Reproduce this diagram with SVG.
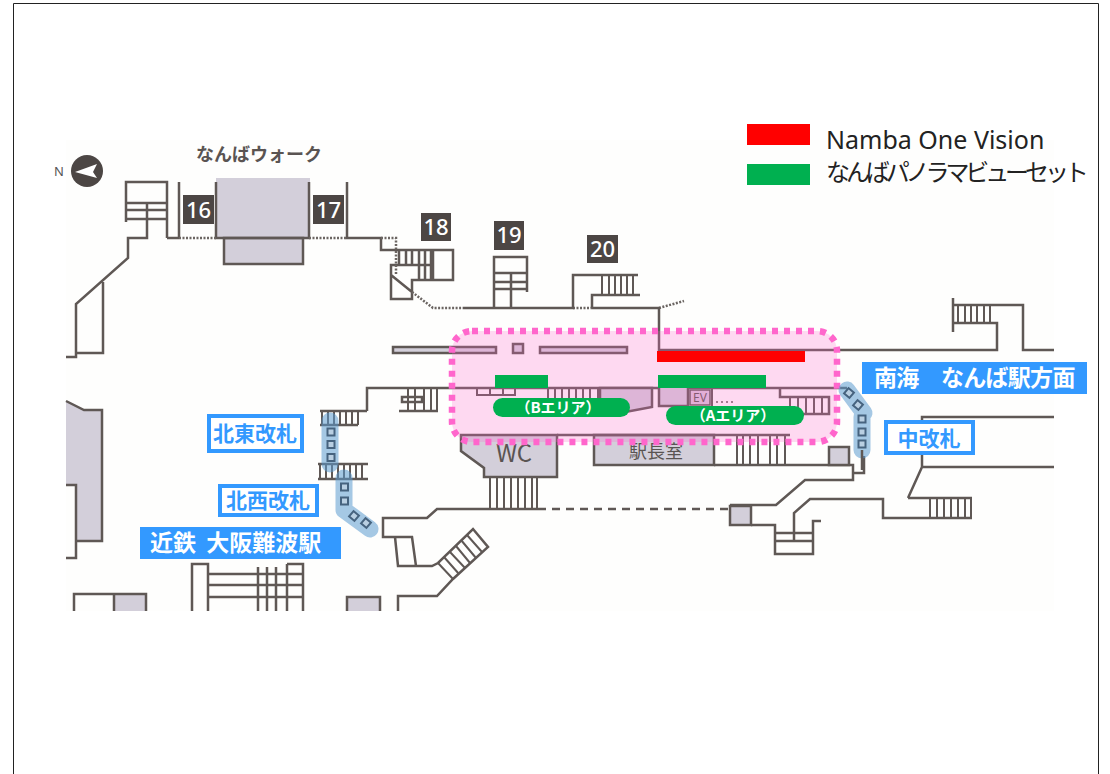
<svg xmlns="http://www.w3.org/2000/svg" width="1110" height="774" viewBox="0 0 1110 774">
<style>
.w{fill:none;stroke:#5f5855;stroke-width:2.500}
.t{fill:none;stroke:#5f5855;stroke-width:2}
.d{fill:none;stroke:#6b6562;stroke-width:2.500;stroke-dasharray:2 1.500}
.r{fill:#d3cfda;stroke:#5f5855;stroke-width:2.500}
.e{fill:#d3cfda;stroke:none}
.n{fill:#4c4644}
.nt{fill:#fff;font:500 22px "Noto Sans","Liberation Sans",sans-serif;text-anchor:middle}
.m{fill:#5a5452;font-family:"Noto Sans CJK JP","Noto Sans",sans-serif;text-anchor:middle}
.band{fill:none;stroke:#5b9bcf;stroke-opacity:.55;stroke-width:17;stroke-linecap:round;stroke-linejoin:round}
.g{fill:#b9cfe2;stroke:#46637f;stroke-width:2}
.lb{fill:#fff;stroke:#3399ff;stroke-width:4}
.lt{fill:#3399ff;font:700 21px "Noto Sans CJK JP",sans-serif;text-anchor:middle}
.wl{fill:#fff;font:700 23px "Noto Sans CJK JP",sans-serif}
.pill{fill:#00b050}
.pt{fill:#fff;font:700 15px "Noto Sans CJK JP",sans-serif;text-anchor:middle}
</style>
<rect width="1110" height="774" fill="#fff"/>
<path d="M13.500 774V3.500H1098.500V774" fill="none" stroke="#222" stroke-width="1"/>
<rect x="66" y="140" width="988" height="471" fill="#fefefd"/>

<g id="map">
<path class="e" d="M66 401L84 410H102V541H76V485H66Z"/>
<path class="w" d="M66 401L84 410H102V541H76M66 485H76V558H66"/>
<g id="compass"><circle class="n" cx="87" cy="171" r="16"/><path d="M75 172L97 164L93 172L97 178Z" fill="#fff"/></g>
<text x="59" y="176" font-family="Noto Sans,sans-serif" font-size="13" fill="#555" text-anchor="middle">N</text>
<text class="m" x="259" y="161" font-size="18" font-weight="700">なんばウォーク</text>

<path class="w" d="M179 182V238M167 238V182H126V222M126 203H167M126 210H167M126 219H167M147 203V238H128V258L76 304V353H103V282M66 357H76V353M167 238H179"/>
<rect class="e" x="216" y="178" width="94" height="60"/>
<rect class="r" x="224" y="238" width="79" height="26"/>
<path class="w" d="M216 182V238H309V182M347 182V238H381V250H453V280H412V299H391V265H433M399 250V265M406 250V265M412 250V265M419 250V280M425 250V280M431 250V280M433 250V280M391 275L412 292"/>
<path class="d" d="M179 238H216M309 238H347M381 238H396V275M412 292L433 308H463M573 308H592M659 308L684 301"/>
<path class="w" d="M463 308H573V275H638M592 308V295H640M592 308H659V350H997V323H953M953 298V332M953 305H1023V350H1054"/>
<path class="t" d="M602 275V295M609 275V295M615 275V295M621 275V295M627 275V295M633 275V295M958 305V323M965 305V323M971 305V323M977 305V323M984 305V323M990 305V323"/>
<path class="w" d="M494 308V257H527V292M494 273H527M494 282H527M494 289H527M511 273V308"/>
<g id="gate16"><rect class="n" x="183" y="195" width="31" height="29"/><text class="nt" x="198.500" y="218">16</text></g>
<g id="gate17"><rect class="n" x="313" y="195" width="31" height="29"/><text class="nt" x="328.500" y="218">17</text></g>
<g id="gate18"><rect class="n" x="421" y="213" width="30" height="28"/><text class="nt" x="436" y="235">18</text></g>
<g id="gate19"><rect class="n" x="494" y="221" width="30" height="29"/><text class="nt" x="509" y="243">19</text></g>
<g id="gate20"><rect class="n" x="587" y="235" width="31" height="28"/><text class="nt" x="602.500" y="257">20</text></g>

<rect class="r" x="393" y="347" width="103" height="6"/>
<rect class="r" x="513" y="344" width="10" height="9"/>
<rect class="r" x="540" y="347" width="87" height="6"/>

<path class="w" d="M367 411V388H847M320 411H367M320 425H358M318 464H368M318 479H368M399 411H438M402 397H422V402H402Z"/>
<path class="t" d="M322 411V425M328 411V425M334 411V425M340 411V425M346 411V425M352 411V425M358 411V425M320 464V479M326 464V479M332 464V479M338 464V479M344 464V479M350 464V479M356 464V479M362 464V479M408 388V411M415 388V411M424 388V411M431 388V411M437 388V411"/>
<path class="t" d="M477 388V395H515V388M490 388V395M503 388V395M548 388V405M555 388V405M562 388V405M569 388V405M576 388V405M583 388V405M590 388V405M598 388V405"/>
<path class="r" d="M600 388H652V407L620 413H600Z"/>
<path class="r" d="M659 388V406H688V388"/>
<rect x="690" y="390" width="20" height="15" fill="#d9c6da" stroke="#5f5855" stroke-width="1.500"/>
<text x="700" y="402" font-family="Noto Sans,sans-serif" font-size="12" fill="#5f5855" text-anchor="middle">EV</text>
<path class="t" d="M712 388V408"/>
<path fill="none" stroke="#5f5855" stroke-width="1.500" stroke-dasharray="2 3" d="M716 402H735"/>
<path class="w" d="M780 388V397H829V414H790"/>
<path class="t" d="M790 397V414M798 397V414M806 397V414M814 397V414M822 397V414"/>

<path class="r" d="M461 435V451L484 468V477H557V435Z"/>
<text class="m" x="514" y="462" font-size="24">WC</text>
<rect class="r" x="594" y="435" width="120" height="30"/>
<text class="m" x="656" y="458" font-size="18">駅長室</text>
<path class="w" d="M557 435H790M714 465H853V480H805L776 505H730M853 473H864V456"/>
<path class="t" d="M737 436V465M743 436V465M750 436V465M758 436V465M770 436V465M777 436V465M785 436V465"/>
<rect class="r" x="829" y="447" width="20" height="18"/>
<path class="t" d="M490 477V509M497 477V509M504 477V509M511 477V509M518 477V509M525 477V509M532 477V509M537 477V509"/>
<path class="w" d="M538 509H437L427 518H383V537H412L416 566H398L395 537M416 566H432L438 563L473 529L488 547L453 579L437 596H398V611"/>
<path class="t" d="M438 563L453 579M444 557L459 574M450 552L465 568M456 546L470 563M461 540L476 558M467 535L482 552"/>
<path fill="none" stroke="#5f5855" stroke-width="2.500" stroke-dasharray="8 6" d="M538 509H730"/>
<rect class="r" x="730" y="506" width="21" height="19"/>
<path class="w" d="M751 525H775V554H813V521H821M775 533H813M775 541H813M794 541V513L810 499H883V518H972M908 498H972M908 498L922 467H1054M922 467V417H1054"/>
<path class="t" d="M930 499V518M937 499V518M944 499V518M951 499V518M958 499V518M965 499V518M971 499V518"/>
<path class="w" d="M192 611V564H208V611M208 574H303M208 585H303M208 597H303M287 564H303V611M287 564V611M258 567V611M267 567V611M276 567V611"/>
<rect class="e" x="114" y="594" width="32" height="17"/>
<path class="w" d="M74 611V594H146V611M114 594V611"/>
<path class="r" d="M347 611V597H380V611"/>
</g>

<rect id="zone" x="452" y="331" width="385" height="111" rx="20" fill="#ff66cc" fill-opacity=".24" stroke="#ff66cc" stroke-width="6.500" stroke-dasharray="6 6"/>

<g id="passages">
<path class="band" d="M330 421V464"/>
<path class="band" d="M344 478V510L370 529"/>
<path class="band" d="M847 390L864 413M862 417V450"/>
<path class="w" d="M862 450V470"/>
<g class="g">
<rect x="327.500" y="428.500" width="7" height="7"/><rect x="327.500" y="441" width="7" height="7"/><rect x="327.500" y="454" width="7" height="7"/>
<rect x="341" y="483.500" width="7" height="7"/><rect x="341" y="497.500" width="7" height="7"/>
<rect x="350.500" y="512.500" width="7" height="7" transform="rotate(40 354 516)"/><rect x="362.500" y="519.500" width="7" height="7" transform="rotate(40 366 523)"/>
<rect x="845.500" y="389.500" width="7" height="7" transform="rotate(40 849 393)"/><rect x="854.500" y="401.500" width="7" height="7" transform="rotate(40 858 405)"/>
<rect x="858.500" y="415.500" width="7" height="7"/><rect x="858.500" y="428.500" width="7" height="7"/><rect x="858.500" y="440.500" width="7" height="7"/>
</g>
</g>

<g id="legend">
<rect x="747" y="124" width="63" height="21" fill="#ff0000"/>
<rect x="747" y="164" width="63" height="21" fill="#00b050"/>
<text x="826" y="149" font-family="Noto Sans,sans-serif" font-size="25" fill="#222">Namba One Vision</text>
<text x="826" y="181" font-family="Noto Sans CJK JP,sans-serif" font-size="24" letter-spacing="-4.100" fill="#222">なんばパノラマビューセット</text>
</g>

<rect id="red-bar" x="657" y="351" width="148" height="11" fill="#ff0000"/>
<rect id="green-b" x="495" y="375" width="53" height="13" fill="#00b050"/>
<rect id="green-a" x="658" y="375" width="108" height="13" fill="#00b050"/>
<g id="area-b"><rect class="pill" x="493" y="398" width="137" height="19" rx="9.500"/><text class="pt" x="558" y="413">（Bエリア）</text></g>
<g id="area-a"><rect class="pill" x="666" y="406" width="138" height="19" rx="9.500"/><text class="pt" x="733" y="421">（Aエリア）</text></g>

<g id="label-nankai"><rect x="862" y="362" width="225" height="32" fill="#3399ff"/><text class="wl" x="874" y="386" letter-spacing="-.700">南海　なんば駅方面</text></g>
<g id="label-naka"><rect class="lb" x="886" y="422" width="87" height="31"/><text class="lt" x="929" y="446">中改札</text></g>
<g id="label-hokuto"><rect class="lb" x="209" y="416" width="93" height="35"/><text class="lt" x="255" y="441">北東改札</text></g>
<g id="label-hokusei"><rect class="lb" x="220" y="486" width="97" height="29"/><text class="lt" x="268" y="508">北西改札</text></g>
<g id="label-kintetsu"><rect x="140" y="527" width="201" height="32" fill="#3399ff"/><text class="wl" x="150" y="551" word-spacing="5">近鉄 大阪難波駅</text></g>
</svg>
